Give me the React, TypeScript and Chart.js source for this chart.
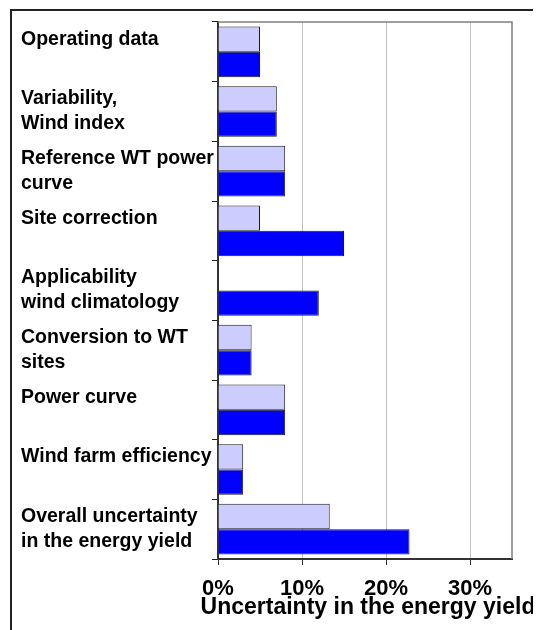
import React, { useEffect, useRef } from 'react';
import { Chart, registerables } from 'chart.js';

Chart.register(...registerables);

const categories: string[][] = [
  ['Operating data', ''],
  ['Variability,', 'Wind index'],
  ['Reference WT power', 'curve'],
  ['Site correction', ''],
  ['Applicability', 'wind climatology'],
  ['Conversion to WT', 'sites'],
  ['Power curve', ''],
  ['Wind farm efficiency', ''],
  ['Overall uncertainty', 'in the energy yield'],
];
const seriesLight: (number | null)[] = [5, 7, 8, 5, null, 4, 8, 3, 13.3];
const seriesDark: number[] = [5, 7, 8, 15, 12, 4, 8, 3, 22.8];
const xMin = 0;
const xMax = 35;
const xStep = 10;
const axisTitle = 'Uncertainty in the energy yield';

const FONT = "'Liberation Sans', Arial, Helvetica, sans-serif";

const framePlugin = {
  id: 'frame',
  beforeDraw(chart: any) {
    const { ctx, width, height } = chart;
    ctx.save();
    ctx.fillStyle = '#ffffff';
    ctx.fillRect(0, 0, width, height);
    ctx.fillStyle = '#222222';
    ctx.fillRect(10, 9, 2, height - 9);
    ctx.fillRect(10, 9, width - 10, 2);
    ctx.restore();
  },
  beforeDatasetsDraw(chart: any) {
    const { ctx, chartArea } = chart;
    ctx.save();
    ctx.strokeStyle = '#808080';
    ctx.lineWidth = 1.5;
    ctx.beginPath();
    ctx.moveTo(chartArea.left, chartArea.top);
    ctx.lineTo(chartArea.right, chartArea.top);
    ctx.lineTo(chartArea.right, chartArea.bottom);
    ctx.stroke();
    ctx.restore();
  },
  afterDraw(chart: any) {
    const { ctx, chartArea } = chart;
    ctx.save();
    ctx.fillStyle = '#000000';
    ctx.font = `bold 23px ${FONT}`;
    ctx.textAlign = 'center';
    ctx.textBaseline = 'middle';
    ctx.fillText(axisTitle, (chartArea.left + chartArea.right) / 2 + 3, 608);
    ctx.restore();
  },
};

export default function App() {
  const ref = useRef<HTMLCanvasElement>(null);
  useEffect(() => {
    if (!ref.current) return;
    const chart = new Chart(ref.current, {
      type: 'bar',
      data: {
        labels: categories,
        datasets: [
          {
            data: seriesLight,
            backgroundColor: '#CCCCFF',
            borderColor: '#1a1a1a',
            borderWidth: 1,
            categoryPercentage: 0.85,
            barPercentage: 1,
          },
          {
            data: seriesDark,
            backgroundColor: '#0000FF',
            borderColor: '#1a1a1a',
            borderWidth: 1,
            categoryPercentage: 0.85,
            barPercentage: 1,
          },
        ],
      },
      options: {
        indexAxis: 'y',
        animation: false,
        responsive: false,
        devicePixelRatio: 1,
        layout: { padding: { left: 21, right: 29, top: 22, bottom: 0 } },
        plugins: {
          legend: { display: false },
          tooltip: { enabled: false },
        },
        scales: {
          y: {
            type: 'category',
            offset: true,
            grid: {
              offset: true,
              drawOnChartArea: false,
              drawTicks: true,
              tickLength: 6,
              tickColor: '#222222',
            },
            border: { display: true, color: '#333333', width: 2 },
            ticks: {
              autoSkip: false,
              crossAlign: 'far',
              color: '#000000',
              font: { family: FONT, size: 19.5, weight: 'bold', lineHeight: 1.28 },
            },
            afterFit(scale: any) {
              scale.width = 197;
              scale.paddingTop = 0;
              scale.paddingBottom = 0;
            },
          },
          x: {
            type: 'linear',
            min: xMin,
            max: xMax,
            grid: {
              color: '#c0c0c0',
              lineWidth: 1,
              tickColor: '#333333',
              tickLength: 6,
            },
            border: { display: true, color: '#333333', width: 2 },
            ticks: {
              stepSize: xStep,
              includeBounds: false,
              padding: 11,
              color: '#000000',
              font: { family: FONT, size: 22, weight: 'bold' },
              callback: (v: any) => v + '%',
            },
            title: { display: false },
            afterFit(scale: any) {
              scale.height = 71;
              scale.paddingLeft = 0;
              scale.paddingRight = 0;
            },
          },
        },
      },
      plugins: [framePlugin],
    });
    return () => chart.destroy();
  }, []);
  return (
    <div style={{ marginLeft: -8, marginTop: -8, width: 541, height: 630 }}>
      <canvas ref={ref} width={541} height={630} style={{ display: 'block' }} />
    </div>
  );
}
